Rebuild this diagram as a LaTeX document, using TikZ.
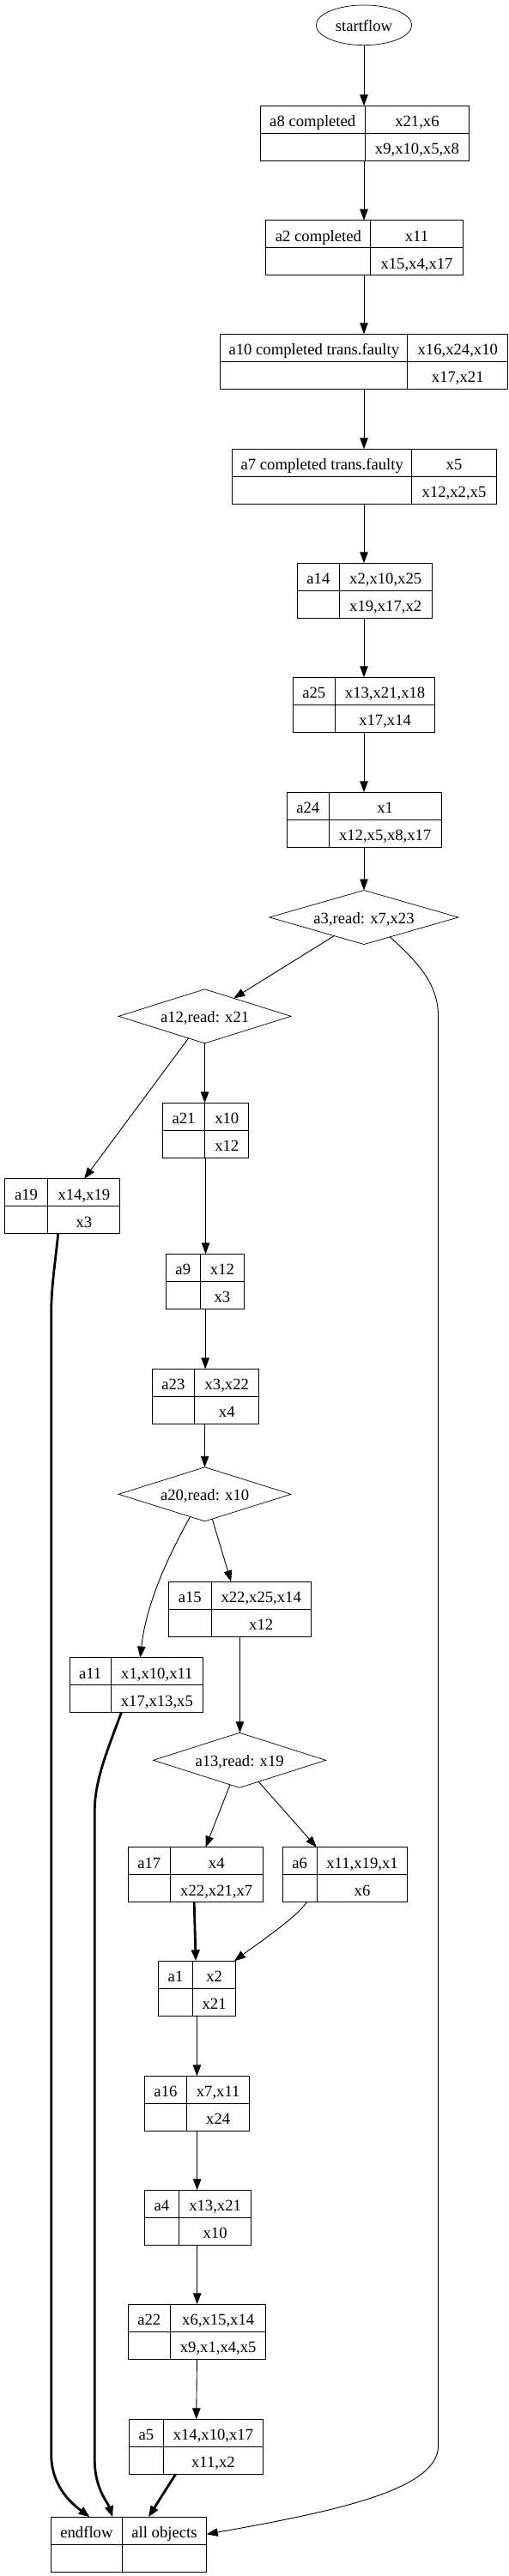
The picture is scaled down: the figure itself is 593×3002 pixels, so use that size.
\documentclass[tikz,border=0pt]{standalone}
\usepackage{fontspec}
\setmainfont{Liberation Serif}
\usetikzlibrary{shapes.geometric,arrows.meta}
\newcommand{\recnode}[8]{%
  \node[recbox, minimum width={#3-#2}, anchor=north west] (#1) at (#2,#4) {};
  \draw[recline] (#5,#4) -- (#5,#4+64);
  \draw[recline] (#2,#4+32) -- (#3,#4+32);
  \node[txt] (#1l) at ({(#2+#5)/2},#4+24.5) {#6};
  \node[txt] (#1t) at ({(#5+#3)/2},#4+24.5) {#7};
  \node[txt] (#1b) at ({(#5+#3)/2},#4+56.5) {#8};
}
\begin{document}
\begin{tikzpicture}[x=1pt,y=-1pt,
  fnt/.style={font=\fontsize{18.67pt}{22pt}\selectfont},
  recbox/.style={draw, rectangle, line width=0.9pt, inner sep=0pt, outer sep=0pt, minimum height=64pt},
  recline/.style={line width=0.9pt},
  txt/.style={fnt, anchor=base, inner sep=0pt},
  dia/.style={draw, diamond, aspect=3.5, line width=0.7pt, inner sep=0pt, outer sep=0pt, fnt, text height=15pt, text depth=0pt},
  ell/.style={draw, ellipse, line width=0.7pt, inner sep=0pt, outer sep=0pt, fnt, text height=14pt, text depth=0pt},
  >={Triangle[length=13pt,width=9.5pt]},
  conn/.style={->, line width=0.9pt},
  boldconn/.style={->, line width=2.8pt}]
\fill[white] (0,0) rectangle (593,3002);
\useasboundingbox (0,0) rectangle (593,3002);

% nodes
\node[ell, minimum width=111.4pt, minimum height=46.7pt] (startflow) at (424,29.3) {startflow};
\recnode{a8}{303}{546.4}{123.3}{425.5}{a8 completed}{x21,x6}{x9,x10,x5,x8}
\recnode{a2}{309.9}{539.2}{256.7}{431.9}{a2 completed}{x11}{x15,x4,x17}
\recnode{a10}{256.7}{591.6}{389.3}{474.9}{a10 completed trans.faulty}{x16,x24,x10}{x17,x21}
\recnode{a7}{270.7}{578.3}{523.3}{479.8}{a7 completed trans.faulty}{x5}{x12,x2,x5}
\recnode{a14}{346.4}{503}{656.3}{395.4}{a14}{x2,x10,x25}{x19,x17,x2}
\recnode{a25}{341.1}{506.8}{789.3}{390.5}{a25}{x13,x21,x18}{x17,x14}
\recnode{a24}{334.2}{514.1}{923.3}{383.3}{a24}{x1}{x12,x5,x8,x17}
\node[dia, minimum width=220pt, minimum height=63pt] (a3) at (424,1069) {a3,read: x7,x23};
\node[dia, minimum width=201pt, minimum height=63pt] (a12) at (238.6,1184.3) {a12,read: x21};
\recnode{a21}{189.4}{289.7}{1285.3}{238.8}{a21}{x10}{x12}
\recnode{a19}{5.3}{139.9}{1373.7}{55.9}{a19}{x14,x19}{x3}
\recnode{a9}{193.5}{284.8}{1461.3}{233.1}{a9}{x12}{x3}
\recnode{a23}{177.2}{301.9}{1595.3}{226.6}{a23}{x3,x22}{x4}
\node[dia, minimum width=201pt, minimum height=63pt] (a20) at (238.6,1741.3) {a20,read: x10};
\recnode{a15}{196.6}{362.4}{1843.3}{246}{a15}{x22,x25,x14}{x12}
\recnode{a11}{81}{236.5}{1931.7}{129.3}{a11}{x1,x10,x11}{x17,x13,x5}
\node[dia, minimum width=201pt, minimum height=64pt] (a13) at (279.1,2051.3) {a13,read: x19};
\recnode{a17}{149}{306}{2152.7}{198.5}{a17}{x4}{x22,x21,x7}
\recnode{a6}{329.3}{474.9}{2152.7}{369.2}{a6}{x11,x19,x1}{x6}
\recnode{a1}{184.4}{274.5}{2285.3}{224.7}{a1}{x2}{x21}
\recnode{a16}{168.4}{290.9}{2419.3}{217.5}{a16}{x7,x11}{x24}
\recnode{a4}{168.4}{292.8}{2552.3}{208.4}{a4}{x13,x21}{x10}
\recnode{a22}{149}{309.9}{2685.3}{198.5}{a22}{x6,x15,x14}{x9,x1,x4,x5}
\recnode{a5}{150.6}{306.8}{2819.3}{190.1}{a5}{x14,x10,x17}{x11,x2}
\recnode{endflow}{59.7}{240.7}{2933.3}{142.2}{endflow}{all objects}{}

% main chain
\draw[conn] (startflow) -- (startflow |- a8.north);
\draw[conn] (startflow |- a8.south) -- (startflow |- a2.north);
\draw[conn] (startflow |- a2.south) -- (startflow |- a10.north);
\draw[conn] (startflow |- a10.south) -- (startflow |- a7.north);
\draw[conn] (startflow |- a7.south) -- (startflow |- a14.north);
\draw[conn] (startflow |- a14.south) -- (startflow |- a25.north);
\draw[conn] (startflow |- a25.south) -- (startflow |- a24.north);
\draw[conn] (startflow |- a24.south) -- (a3);

% branches of a3
\draw[conn] (a3) -- (a12);
\draw[conn] (a3.-37) .. controls (485,1120) and (510.6,1145) .. (510.6,1185)
  -- (510.6,2850) .. controls (510.6,2900) and (400,2925) .. ([yshift=12pt]endflow.east);

% branches of a12
\draw[conn] (a12) -- ([xshift=25.5pt]a19.north);
\draw[conn] (a12) -- (a12 |- a21.north);
\draw[conn] (a21.south) -- (a21.south |- a9.north);
\draw[conn] (a9.south) -- (a9.south |- a23.north);
\draw[conn] (a20 |- a23.south) -- (a20);

% branches of a20
\draw[conn] (a20.-123) .. controls (195,1815) and (170,1870) .. ([xshift=4.7pt]a11.north);
\draw[conn] (a20) -- ([xshift=-10.3pt]a15.north);
\draw[conn] (a15.south) -- (a15.south |- a13.north);

% branches of a13
\draw[conn] (a13) -- ([xshift=12pt]a17.north);
\draw[conn] (a13) -- ([xshift=-33.3pt]a6.north);
\draw[boldconn] ([xshift=-1.3pt]a17.south) -- ([xshift=-1.4pt]a1.north);
\draw[conn] ([xshift=-44.7pt]a6.south) .. controls (345,2235) and (300,2265) .. ([xshift=-1.5pt]a1.north east);

% lower chain
\draw[conn] (a1.south) -- (a1.south |- a16.north);
\draw[conn] (a16.south) -- (a16.south |- a4.north);
\draw[conn] (a16.south |- a4.south) -- (a16.south |- a22.north);
\draw[conn] (a22.south) -- (a5.north);

% bold edges to endflow
\draw[boldconn] ([xshift=-24.1pt]a5.south) -- ([xshift=22.8pt]endflow.north);
\draw[boldconn] ([xshift=-4.9pt]a19.south) .. controls (64,1475) and (59.7,1500) .. (59.7,1530)
  -- (59.7,2860) .. controls (59.7,2895) and (80,2915) .. ([xshift=-45.6pt]endflow.north);
\draw[boldconn] ([xshift=-17.4pt]a11.south) .. controls (125,2040) and (110.3,2075) .. (110.3,2110)
  -- (110.3,2866.7) .. controls (110.3,2900) and (125,2915) .. ([xshift=-19pt]endflow.north);
\end{tikzpicture}
\end{document}
